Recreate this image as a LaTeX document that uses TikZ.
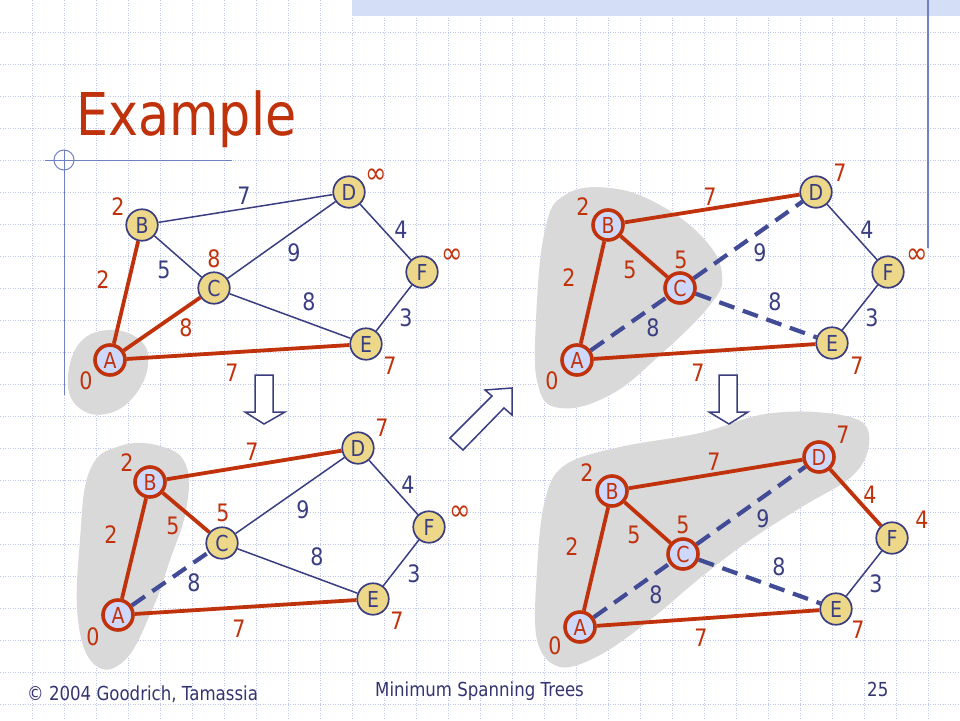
\documentclass[tikz,border=0pt]{standalone}
\usepackage{fontspec}
\setmainfont[FakeStretch=0.86]{DejaVu Sans}
\definecolor{redc}{RGB}{192,50,12}
\definecolor{navyc}{RGB}{58,62,128}
\definecolor{dashc}{RGB}{66,76,150}
\definecolor{nodey}{RGB}{236,216,136}
\definecolor{nodelb}{RGB}{206,216,250}
\definecolor{blobc}{RGB}{217,217,217}
\definecolor{gridc}{RGB}{190,198,234}
\definecolor{decoc}{RGB}{112,128,196}
\definecolor{bandc}{RGB}{212,222,246}
\definecolor{footc}{RGB}{52,52,112}
\tikzset{
  ynode/.style={circle, fill=nodey, draw=navyc, line width=1.7, text=navyc, minimum size=31.5, inner sep=0, font=\fontsize{22}{24}\selectfont},
  rnode/.style={circle, fill=nodelb, draw=redc, line width=3.6, text=redc, minimum size=30, inner sep=0, font=\fontsize{22}{24}\selectfont},
  tedge/.style={draw=navyc, line width=1.5},
  redge/.style={draw=redc, line width=3.8},
  dedge/.style={draw=dashc, line width=4.2, dash pattern=on 16 off 9},
  rl/.style={text=redc, inner sep=0, font=\fontsize{24}{26}\selectfont},
  bl/.style={text=navyc, inner sep=0, font=\fontsize{24}{26}\selectfont},
  inf/.style={text=redc, inner sep=0, font=\fontsize{30}{30}\selectfont},
  gridline/.style={draw=gridc, line width=0.8, dash pattern=on 1 off 1.5},
  blockarrow/.style={draw=navyc, line width=1.5, fill=white, line join=miter},
  blob/.style={fill=blobc},
  foot/.style={anchor=base west, inner sep=0, text=footc, font=\fontsize{19.3}{21}\selectfont}
}
\begin{document}
\begin{tikzpicture}[x=1pt,y=-1pt]
\fill[white] (0,0) rectangle (960,720);
\useasboundingbox (0,0) rectangle (960,720);
% grid
\foreach \i in {1,...,29} \draw[gridline] (32*\i,0) -- (32*\i,720);
\foreach \j in {1,...,22} \draw[gridline] (0,32*\j) -- (960,32*\j);
% top band and decorations
\fill[bandc] (352,0) rectangle (960,16);
\draw[decoc, line width=1.5] (928,0) -- (928,248);
\draw[decoc, line width=1] (45,160) -- (232,160);
\draw[decoc, line width=1] (64,150) -- (64,395);
\draw[decoc, line width=1] (64,160) circle (10);
% title
\node[anchor=base west, inner sep=0, text=redc, font=\fontsize{59}{61}\selectfont] (title) at (76,135) {Example};
% blobs
\fill[blob] plot[smooth cycle, tension=0.7] coordinates {(68,385) (78,345) (108,330) (140,340) (148,365) (135,395) (110,413) (82,410)};
\fill[blob] plot[smooth cycle, tension=0.7] coordinates {(545,230) (565,195) (610,188) (660,205) (705,240) (722,275) (710,305) (660,355) (610,395) (560,408) (538,385) (536,320)};
\fill[blob] plot[smooth cycle, tension=0.7] coordinates {(90,470) (120,446) (160,446) (186,465) (186,510) (170,560) (152,610) (125,660) (95,665) (78,620) (80,540)};
\fill[blob] plot[smooth cycle, tension=0.6] coordinates {(545,500) (565,465) (620,447) (700,433) (760,415) (815,412) (862,422) (868,450) (850,478) (805,505) (750,540) (700,578) (650,620) (600,655) (560,667) (537,640) (537,570)};
% arrows
\draw[blockarrow] (255,375) -- (273,375) -- (273,412) -- (285,412) -- (264,424) -- (245,412) -- (255,412) -- cycle;
\draw[blockarrow] (719,375) -- (737,375) -- (737,412) -- (748,412) -- (729,424) -- (709,412) -- (719,412) -- cycle;
\draw[blockarrow] (450,438) -- (492,396) -- (485,390) -- (512,388) -- (512,415) -- (504,408) -- (463,450) -- cycle;
% ---------- panel 1 ----------
\node[rnode] (a1) at (110,360) {A};
\node[ynode] (b1) at (142,225) {B};
\node[ynode] (c1) at (214,288) {C};
\node[ynode] (d1) at (349,192) {D};
\node[ynode] (e1) at (366,344) {E};
\node[ynode] (f1) at (422,272) {F};
\draw[tedge] (b1) -- (d1);
\draw[tedge] (b1) -- (c1);
\draw[tedge] (c1) -- (d1);
\draw[tedge] (c1) -- (e1);
\draw[tedge] (d1) -- (f1);
\draw[tedge] (e1) -- (f1);
\draw[redge] (a1) -- (b1);
\draw[redge] (a1) -- (c1);
\draw[redge] (a1) -- (e1);
\node[rl] (p1lb) at (118,207) {2};
\node[rl] (p1ab) at (103,280) {2};
\node[bl] (p1bc) at (164,270) {5};
\node[rl] (p1lc) at (214,259) {8};
\node[bl] (p1bd) at (244,196) {7};
\node[bl] (p1cd) at (294,253) {9};
\node[bl] (p1df) at (401,230) {4};
\node[inf] (p1ld) at (376,176) {∞};
\node[inf] (p1lf) at (452,256) {∞};
\node[bl] (p1ce) at (309,302) {8};
\node[rl] (p1ac) at (186,328) {8};
\node[bl] (p1ef) at (406,318) {3};
\node[rl] (p1le) at (390,366) {7};
\node[rl] (p1ae) at (232,373) {7};
\node[rl] (p1la) at (86,381) {0};
% ---------- panel 2 ----------
\node[rnode] (a2) at (577,360) {A};
\node[rnode] (b2) at (608,225) {B};
\node[rnode] (c2) at (680,288) {C};
\node[ynode] (d2) at (816,192) {D};
\node[ynode] (e2) at (832,343) {E};
\node[ynode] (f2) at (888,272) {F};
\draw[tedge] (d2) -- (f2);
\draw[tedge] (e2) -- (f2);
\draw[dedge] (a2) -- (c2);
\draw[dedge] (c2) -- (d2);
\draw[dedge] (c2) -- (e2);
\draw[redge] (a2) -- (b2);
\draw[redge] (b2) -- (c2);
\draw[redge] (b2) -- (d2);
\draw[redge] (a2) -- (e2);
\node[rl] (p2ld) at (840,173) {7};
\node[rl] (p2lb) at (583,207) {2};
\node[rl] (p2bd) at (710,197) {7};
\node[bl] (p2df) at (867,230) {4};
\node[rl] (p2bc) at (630,270) {5};
\node[rl] (p2lc) at (681,260) {5};
\node[bl] (p2cd) at (760,253) {9};
\node[inf] (p2lf) at (917,256) {∞};
\node[rl] (p2ab) at (569,278) {2};
\node[bl] (p2ce) at (775,302) {8};
\node[bl] (p2ac) at (653,328) {8};
\node[bl] (p2ef) at (872,318) {3};
\node[rl] (p2le) at (857,366) {7};
\node[rl] (p2ae) at (698,373) {7};
\node[rl] (p2la) at (552,381) {0};
% ---------- panel 3 ----------
\node[rnode] (a3) at (118,615) {A};
\node[rnode] (b3) at (150,482) {B};
\node[ynode] (c3) at (222,543) {C};
\node[ynode] (d3) at (358,448) {D};
\node[ynode] (e3) at (373,599) {E};
\node[ynode] (f3) at (429,527) {F};
\draw[tedge] (c3) -- (d3);
\draw[tedge] (c3) -- (e3);
\draw[tedge] (d3) -- (f3);
\draw[tedge] (e3) -- (f3);
\draw[dedge] (a3) -- (c3);
\draw[redge] (a3) -- (b3);
\draw[redge] (b3) -- (c3);
\draw[redge] (b3) -- (d3);
\draw[redge] (a3) -- (e3);
\node[rl] (p3ld) at (382,428) {7};
\node[rl] (p3lb) at (127,463) {2};
\node[rl] (p3bd) at (252,452) {7};
\node[bl] (p3df) at (408,485) {4};
\node[inf] (p3lf) at (460,513) {∞};
\node[bl] (p3cd) at (303,510) {9};
\node[rl] (p3lc) at (223,513) {5};
\node[rl] (p3bc) at (173,526) {5};
\node[rl] (p3ab) at (111,535) {2};
\node[bl] (p3ce) at (317,557) {8};
\node[bl] (p3ac) at (194,583) {8};
\node[bl] (p3ef) at (414,574) {3};
\node[rl] (p3le) at (397,621) {7};
\node[rl] (p3ae) at (239,629) {7};
\node[rl] (p3la) at (93,637) {0};
% ---------- panel 4 ----------
\node[rnode] (a4) at (580,627) {A};
\node[rnode] (b4) at (612,491) {B};
\node[rnode] (c4) at (683,554) {C};
\node[rnode] (d4) at (819,457) {D};
\node[ynode] (e4) at (836,609) {E};
\node[ynode] (f4) at (892,538) {F};
\draw[tedge] (e4) -- (f4);
\draw[dedge] (a4) -- (c4);
\draw[dedge] (c4) -- (d4);
\draw[dedge] (c4) -- (e4);
\draw[redge] (a4) -- (b4);
\draw[redge] (b4) -- (c4);
\draw[redge] (b4) -- (d4);
\draw[redge] (d4) -- (f4);
\draw[redge] (a4) -- (e4);
\node[rl] (p4ld) at (843,435) {7};
\node[rl] (p4lb) at (587,473) {2};
\node[rl] (p4bd) at (714,462) {7};
\node[rl] (p4df) at (870,495) {4};
\node[rl] (p4lf) at (922,520) {4};
\node[bl] (p4cd) at (763,519) {9};
\node[rl] (p4lc) at (683,525) {5};
\node[rl] (p4bc) at (634,535) {5};
\node[rl] (p4ab) at (572,547) {2};
\node[bl] (p4ce) at (779,567) {8};
\node[bl] (p4ac) at (656,595) {8};
\node[bl] (p4ef) at (876,584) {3};
\node[rl] (p4le) at (858,630) {7};
\node[rl] (p4ae) at (701,638) {7};
\node[rl] (p4la) at (555,646) {0};
% footer
\node[foot] (copy) at (27,700) {© 2004 Goodrich, Tamassia};
\node[foot] (foottitle) at (375,696) {Minimum Spanning Trees};
\node[foot] (pagenum) at (867,696) {25};
\end{tikzpicture}
\end{document}
